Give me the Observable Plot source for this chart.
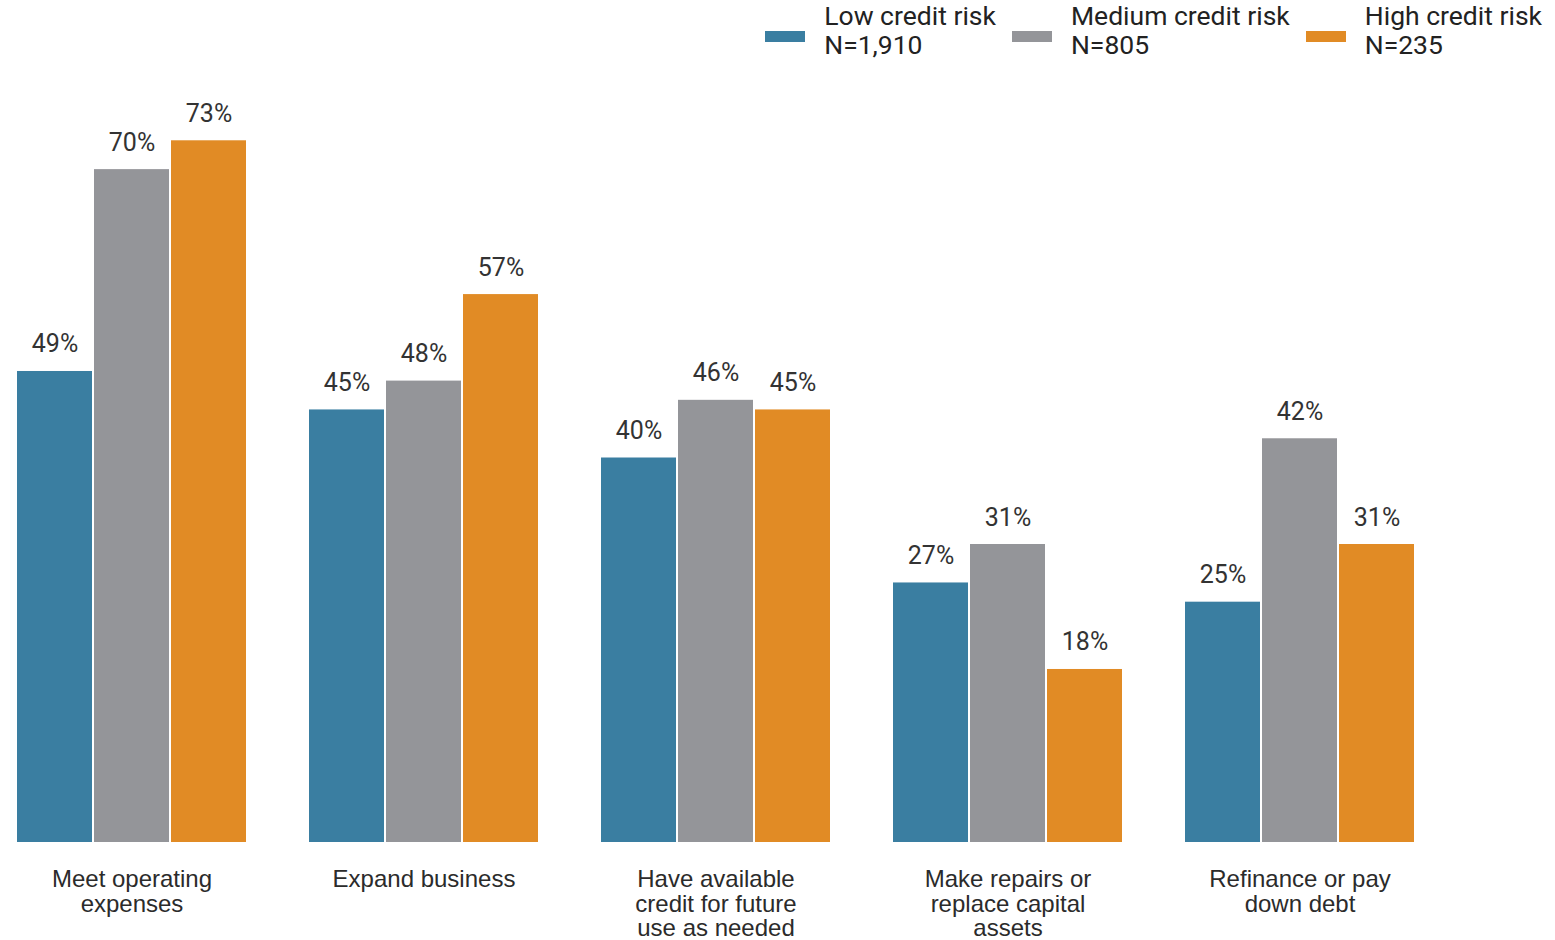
<!DOCTYPE html>
<html>
<head>
<meta charset="utf-8">
<script src="https://cdn.jsdelivr.net/npm/d3@7"></script>
<script src="https://cdn.jsdelivr.net/npm/@observablehq/plot@0.6"></script>
<style>
  html, body { margin: 0; padding: 0; background: #fff; }
  #legend {
    height: 65px; display: flex; justify-content: flex-end; align-items: flex-start;
    padding-right: 13px; box-sizing: border-box; width: 1555px;
    font-family: Roboto, sans-serif; font-size: 26.5px; line-height: 28.5px; color: #222;
  }
  .item { display: flex; align-items: flex-start; margin-left: 16px; }
  .sw { width: 40px; height: 11px; margin-top: 31px; margin-right: 19px; }
  .txt { padding-top: 2px; white-space: nowrap; }
</style>
</head>
<body>
<div id="legend"></div>
<div id="chart"></div>
<script>
const categories = [
  "Meet operating expenses",
  "Expand business",
  "Have available credit for future use as needed",
  "Make repairs or replace capital assets",
  "Refinance or pay down debt"
];
const categoryLabels = [
  "Meet operating\nexpenses",
  "Expand business",
  "Have available\ncredit for future\nuse as needed",
  "Make repairs or\nreplace capital\nassets",
  "Refinance or pay\ndown debt"
];
const series = ["Low credit risk", "Medium credit risk", "High credit risk"];
const seriesN = ["N=1,910", "N=805", "N=235"];
const colors = ["#3a7ea1", "#949599", "#e18b25"];
const lowRisk = [49, 45, 40, 27, 25];
const mediumRisk = [70, 48, 46, 31, 42];
const highRisk = [73, 57, 45, 18, 31];

const seriesValues = [lowRisk, mediumRisk, highRisk];
const data = [];
categories.forEach((c, i) => {
  series.forEach((s, j) => data.push({cat: c, series: s, value: seriesValues[j][i]}));
});
const labelRows = categories.map((c, i) => ({cat: c, label: categoryLabels[i]}));

// legend
const legend = document.getElementById("legend");
series.forEach((s, j) => {
  const it = document.createElement("div");
  it.className = "item";
  const sw = document.createElement("div");
  sw.className = "sw";
  sw.style.background = colors[j];
  const tx = document.createElement("div");
  tx.className = "txt";
  tx.innerHTML = s + "<br>" + seriesN[j];
  it.appendChild(sw); it.appendChild(tx);
  legend.appendChild(it);
});

const chart = Plot.plot({
  width: 1555,
  height: 875,
  marginTop: 8,
  marginBottom: 98,
  marginLeft: 16,
  marginRight: 140,
  style: {background: "#fff", overflow: "visible"},
  fx: {domain: categories, paddingInner: 0.209, paddingOuter: 0, axis: null, label: null},
  x: {domain: series, paddingInner: 0.03, paddingOuter: 0, axis: null, label: null},
  y: {domain: [0, 80], axis: null},
  color: {domain: series, range: colors},
  marks: [
    Plot.barY(data, {fx: "cat", x: "series", y: "value", fill: "series"}),
    Plot.text(data, {
      fx: "cat", x: "series", y: "value", text: d => d.value + "%",
      dy: -19, lineAnchor: "bottom", fontSize: 25, fill: "#333",
      fontFamily: "Roboto, sans-serif"
    }),
    Plot.text(labelRows, {
      fx: "cat", text: "label", frameAnchor: "bottom", lineAnchor: "top",
      dy: 27, fontSize: 24, lineHeight: 1.03, fill: "#2b2b2b",
      fontFamily: "'Liberation Sans', Arial, sans-serif"
    })
  ]
});
document.getElementById("chart").appendChild(chart);
</script>
</body>
</html>
